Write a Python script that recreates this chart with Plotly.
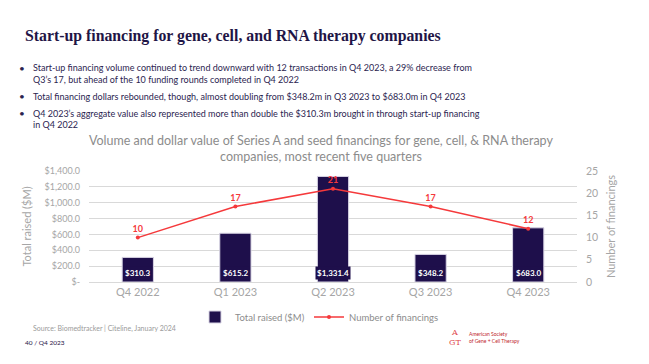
import plotly.graph_objects as go

quarters = ["Q4 2022", "Q1 2023", "Q2 2023", "Q3 2023", "Q4 2023"]
total_raised = [310.3, 615.2, 1331.4, 348.2, 683.0]
bar_labels = ["$310.3", "$615.2", "$1,331.4", "$348.2", "$683.0"]
num_financings = [10, 17, 21, 17, 12]
left_ticks = [0, 200, 400, 600, 800, 1000, 1200, 1400]
left_tick_text = ["$-", "$200.0", "$400.0", "$600.0", "$800.0", "$1,000.0", "$1,200.0", "$1,400.0"]
right_ticks = [0, 5, 10, 15, 20, 25]

W, H = 649, 364
L, R, T, B = 89, 72, 171, 82
PW, PH = W - L - R, H - T - B

def px(x):
    return (x - L) / PW

def py(y):
    return (H - B - y) / PH

NAVY = "#1e0f4b"
RED = "#f5393b"
GRAY = "#a6a6a6"
FONT = "Lato"

fig = go.Figure()
fig.add_trace(go.Bar(
    x=quarters, y=total_raised, name="Total raised ($M)",
    marker=dict(color=NAVY, line=dict(color="#d8d4e4", width=1)),
    width=0.32, yaxis="y", legend="legend",
))
fig.add_trace(go.Scatter(
    x=quarters, y=num_financings, name="Number of financings",
    mode="lines+markers+text", yaxis="y2", legend="legend2",
    line=dict(color=RED, width=1.5), marker=dict(color=RED, size=4),
    text=[str(v) for v in num_financings], textposition="top center",
    textfont=dict(color=RED, size=9, family=FONT, weight="bold"),
))

annotations = []
for q, lab in zip(quarters, bar_labels):
    annotations.append(dict(
        x=q, y=0, xref="x", yref="y", text=lab, showarrow=False,
        yanchor="bottom", yshift=2, bgcolor=NAVY, borderpad=1,
        font=dict(color="white", size=8, family=FONT, weight="bold"),
    ))

# slide title
annotations.append(dict(
    x=px(23), y=py(36), xref="paper", yref="paper", xanchor="left", yanchor="middle",
    text="Start-up financing for gene, cell, and RNA therapy companies", showarrow=False,
    font=dict(family="Liberation Serif", size=15.8, color="#1f1546", weight="bold"),
))

bullets = [68, 96, 113]
lines = [
    (68, "Start-up financing volume continued to trend downward with 12 transactions in Q4 2023, a 29% decrease from"),
    (79, "Q3’s 17, but ahead of the 10 funding rounds completed in Q4 2022"),
    (96, "Total financing dollars rebounded, though, almost doubling from $348.2m in Q3 2023 to $683.0m in Q4 2023"),
    (113, "Q4 2023’s aggregate value also represented more than double the $310.3m brought in through start-up financing"),
    (124, "in Q4 2022"),
]
for yy in bullets:
    annotations.append(dict(x=px(22), y=py(yy), xref="paper", yref="paper", xanchor="center",
                            yanchor="middle", text="•", showarrow=False,
                            font=dict(family=FONT, size=10, color="#2b2450")))
for yy, t in lines:
    annotations.append(dict(x=px(31), y=py(yy), xref="paper", yref="paper", xanchor="left",
                            yanchor="middle", text=t, showarrow=False,
                            font=dict(family=FONT, size=9, color="#2b2450")))

# chart title
annotations.append(dict(
    x=px(321), y=py(148), xref="paper", yref="paper", xanchor="center", yanchor="middle",
    text="Volume and dollar value of Series A and seed financings for gene, cell, & RNA therapy<br>companies, most recent five quarters",
    showarrow=False, font=dict(family=FONT, size=12.5, color="#8c8c8c"),
))

# footer
annotations.append(dict(x=px(31), y=py(328), xref="paper", yref="paper", xanchor="left", yanchor="middle",
                        text="Source: Biomedtracker | Citeline, January 2024", showarrow=False,
                        font=dict(family=FONT, size=7, color="#9a9a9a")))
annotations.append(dict(x=px(23), y=py(342), xref="paper", yref="paper", xanchor="left", yanchor="middle",
                        text="40 / Q4 2023", showarrow=False,
                        font=dict(family=FONT, size=6.5, color="#1f1546")))
annotations.append(dict(x=px(467), y=py(337), xref="paper", yref="paper", xanchor="left", yanchor="middle",
                        text="American Society<br>of Gene + Cell Therapy", showarrow=False, align="left",
                        font=dict(family=FONT, size=5, color="#c0262c")))
annotations.append(dict(x=px(455), y=py(337), xref="paper", yref="paper", xanchor="center", yanchor="middle",
                        text="A<br>GT", showarrow=False,
                        font=dict(family="DejaVu Serif", size=8, color="#e0474c")))

legend_common = dict(orientation="h", yanchor="middle", tracegroupgap=0,
                     bgcolor="rgba(0,0,0,0)",
                     font=dict(family=FONT, size=9.5, color="#8c8c8c"))

fig.update_layout(
    width=W, height=H,
    margin=dict(l=L, r=R, t=T, b=B, autoexpand=False),
    paper_bgcolor="white", plot_bgcolor="white",
    font=dict(family=FONT, color=GRAY, size=11),
    showlegend=True,
    legend=dict(x=px(195), y=py(317), xanchor="left", **legend_common),
    legend2=dict(x=px(309), y=py(317), xanchor="left", **legend_common),
    bargap=0.68,
    xaxis=dict(showgrid=False, showline=True, linecolor="#d9d9d9", ticks="", automargin=False,
               tickfont=dict(size=11, color=GRAY, family=FONT)),
    yaxis=dict(range=[0, 1400], tickvals=left_ticks, ticktext=left_tick_text, automargin=False,
               showgrid=True, gridcolor="#d9d9d9", zeroline=False,
               tickfont=dict(size=9, color=GRAY, family=FONT),
               title=dict(text="Total raised ($M)", font=dict(size=11, color=GRAY, family=FONT), standoff=10),
               ticklabelstandoff=8),
    yaxis2=dict(range=[0, 25], tickvals=right_ticks, overlaying="y", side="right", automargin=False,
                showgrid=False, zeroline=False,
                tickfont=dict(size=10.5, color=GRAY, family=FONT),
                title=dict(text="Number of financings", font=dict(size=11, color=GRAY, family=FONT), standoff=10),
                ticklabelstandoff=8),
    annotations=annotations,
)

fig.write_html("out.html", config={"displayModeBar": False},
               post_script="document.body.style.margin='0';")
